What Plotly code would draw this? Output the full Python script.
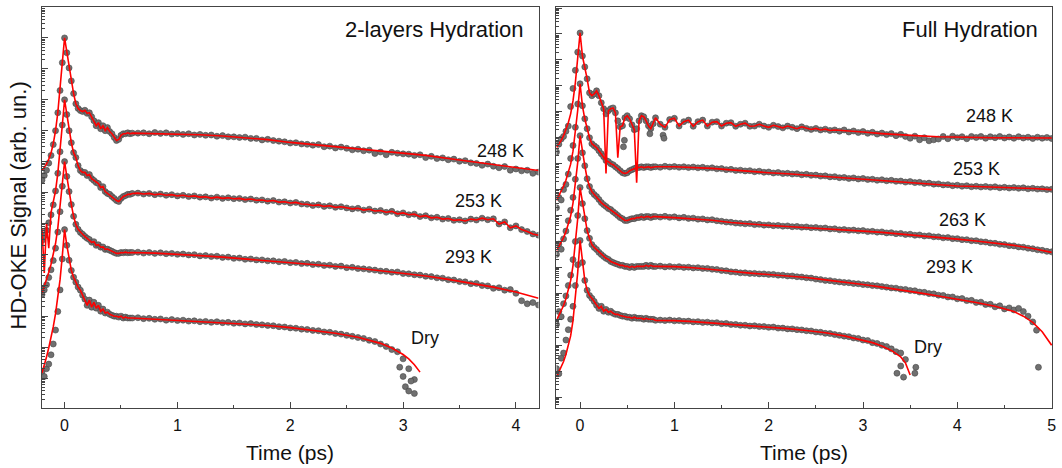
import plotly.graph_objects as go

# ---------------- time grids (ps) ----------------
tL_early = [-0.20,-0.18,-0.16,-0.14,-0.12,-0.10,-0.08,-0.06,-0.04,-0.02,0.00,
            0.02,0.04,0.06,0.08,0.10,0.12,0.14,0.16,0.18,0.20,0.22,0.24,0.26,0.28,0.30,
            0.32,0.34,0.36,0.38,0.40,0.42,0.44,0.46,0.48,0.50,0.52,0.54,0.56,0.58,0.60]
tL_tail = [0.65,0.70,0.75,0.80,0.85,0.90,0.95,1.00,1.05,1.10,1.15,1.20,1.25,1.30,1.35,1.40,
           1.45,1.50,1.55,1.60,1.65,1.70,1.75,1.80,1.85,1.90,1.95,2.00,2.05,2.10,2.15,2.20,
           2.25,2.30,2.35,2.40,2.45,2.50,2.55,2.60,2.65,2.70,2.75,2.80,2.85,2.90,2.95,3.00,
           3.05,3.10,3.15,3.20,3.25,3.30,3.35,3.40,3.45,3.50,3.55,3.60,3.65,3.70,3.75,3.80,
           3.85,3.90,3.95,4.00,4.05,4.10,4.15,4.20]
tfL = [0.6,0.8,1.0,1.2,1.4,1.6,1.8,2.0,2.2,2.4,2.6,2.8,3.0,3.2,3.4,3.6,3.8,4.0,4.2]
tfDryL = [0.6,0.8,1.0,1.2,1.4,1.6,1.8,2.0,2.2,2.4,2.6,2.8,2.9,3.0,3.05,3.1,3.15]

tR_early = [-0.250,-0.225,-0.200,-0.175,-0.150,-0.125,-0.100,-0.075,-0.050,-0.025,0.000,
            0.025,0.050,0.075,0.100,0.125,0.150,0.175,0.200,0.225,0.250,0.275,0.300,0.325,
            0.350,0.375,0.400,0.425,0.450,0.475,0.500,0.525,0.550,0.575,0.600,0.625,0.650,
            0.675,0.700,0.725,0.750,0.775,0.800]
tR_tail = [0.85,0.90,0.95,1.00,1.05,1.10,1.15,1.20,1.25,1.30,1.35,1.40,1.45,1.50,1.55,1.60,
           1.65,1.70,1.75,1.80,1.85,1.90,1.95,2.00,2.05,2.10,2.15,2.20,2.25,2.30,2.35,2.40,
           2.45,2.50,2.55,2.60,2.65,2.70,2.75,2.80,2.85,2.90,2.95,3.00,3.05,3.10,3.15,3.20,
           3.25,3.30,3.35,3.40,3.45,3.50,3.55,3.60,3.65,3.70,3.75,3.80,3.85,3.90,3.95,4.00,
           4.05,4.10,4.15,4.20,4.25,4.30,4.35,4.40,4.45,4.50,4.55,4.60,4.65,4.70,4.75,4.80,
           4.85,4.90,4.95,5.00]
tfR = [0.8,1.0,1.2,1.4,1.6,1.8,2.0,2.2,2.4,2.6,2.8,3.0,3.2,3.4,3.6,3.8,4.0,4.2,4.4,4.6,4.8,5.0]
tf248R = [2.8,3.0,3.2,3.4,3.6,3.8,4.0,4.2,4.4,4.6,4.8,5.0]
tf293R = [0.8,1.0,1.2,1.4,1.6,1.8,2.0,2.2,2.4,2.6,2.8,3.0,3.2,3.4,3.6,3.8,4.0,4.2,4.4,4.6,4.7,4.8,4.9,5.0]
tfDryR = [0.8,1.0,1.2,1.4,1.6,1.8,2.0,2.2,2.4,2.6,2.8,3.0,3.1,3.2,3.3,3.4,3.45,3.5]

# ---------------- log10 of HD-OKE signal, 2-layers hydration ----------------
d248L_early = [7.40,7.55,7.72,7.95,8.20,8.55,9.00,9.58,10.30,11.20,12.00,
               11.52,11.03,10.61,10.20,9.87,9.72,9.65,9.62,9.66,9.56,9.58,9.45,9.32,9.16,9.26,
               9.06,9.16,9.00,9.10,8.97,8.90,8.78,8.68,8.72,8.85,8.90,8.90,8.93,8.90,8.92]
d248L_tail = [8.92,8.93,8.90,8.94,8.91,8.93,8.89,8.91,8.88,8.90,8.86,8.88,8.85,8.86,8.82,8.84,
              8.80,8.80,8.78,8.79,8.75,8.75,8.70,8.72,8.68,8.66,8.64,8.60,8.61,8.57,8.56,8.53,
              8.55,8.48,8.50,8.44,8.47,8.43,8.38,8.40,8.35,8.37,8.26,8.31,8.22,8.30,8.27,8.25,
              8.24,8.20,8.22,8.13,8.17,8.10,8.12,8.06,8.08,8.01,8.03,7.96,7.94,7.88,7.92,7.85,
              7.80,7.84,7.72,7.76,7.70,7.72,7.62,7.66]
f248L_rise = [7.71,7.80,7.92,8.08,8.28,8.58,9.00,9.58,10.30,11.20]
f248L_tail = [8.90,8.91,8.90,8.87,8.83,8.78,8.71,8.62,8.55,8.48,8.41,8.34,8.28,8.20,8.10,8.00,7.90,7.80,7.71]

d253L_early = [5.45,5.60,5.78,6.02,6.28,6.60,7.05,7.62,8.32,9.18,10.00,
               9.52,9.00,8.61,8.29,8.13,7.87,7.71,7.65,7.65,7.55,7.58,7.45,7.39,7.32,7.29,
               7.16,7.19,7.03,6.97,6.94,6.87,6.81,6.74,6.71,6.81,6.87,6.90,6.94,6.94,6.97]
d253L_tail = [6.98,6.95,6.97,6.93,6.95,6.91,6.93,6.89,6.91,6.87,6.89,6.85,6.86,6.82,6.85,6.81,
              6.83,6.80,6.81,6.77,6.79,6.75,6.76,6.72,6.74,6.69,6.70,6.66,6.68,6.63,6.62,6.58,
              6.60,6.55,6.57,6.52,6.54,6.50,6.47,6.49,6.43,6.46,6.40,6.42,6.36,6.39,6.31,6.34,
              6.28,6.30,6.22,6.25,6.18,6.20,6.14,6.16,6.10,6.12,6.08,6.14,6.11,6.17,6.12,6.15,
              5.98,6.05,5.86,5.92,5.80,5.74,5.66,5.62]
f253L_rise = [5.85,4.40,6.00,5.20,6.35,6.65,7.05,7.62,8.32,9.18]

d293L_early = [3.70,3.85,4.02,4.25,4.50,4.80,5.20,5.72,6.38,7.20,8.00,
               7.52,7.03,6.61,6.23,5.97,5.81,5.71,5.65,5.58,5.52,5.48,5.39,5.41,5.29,5.31,
               5.23,5.24,5.16,5.17,5.13,5.10,5.06,5.03,5.03,5.06,5.05,5.07,5.05,5.06,5.06]
d293L_tail = [5.07,5.04,5.06,5.03,5.05,5.02,5.03,5.00,5.01,4.98,4.99,4.95,4.96,4.93,4.94,4.90,
              4.91,4.87,4.88,4.84,4.85,4.82,4.82,4.79,4.79,4.76,4.77,4.73,4.74,4.70,4.71,4.67,
              4.68,4.64,4.65,4.61,4.62,4.57,4.58,4.54,4.53,4.51,4.49,4.46,4.45,4.42,4.43,4.38,
              4.37,4.34,4.33,4.29,4.28,4.24,4.23,4.18,4.17,4.12,4.11,4.05,4.06,3.99,3.98,3.90,
              3.92,3.84,3.86,3.74,3.50,3.40,3.44,3.36]
f293L_rise = [3.74,3.95,4.18,4.42,4.68,4.98,5.35,5.85,6.50,7.25]
f293L_tail = [5.06,5.04,5.01,4.96,4.91,4.85,4.80,4.74,4.68,4.62,4.55,4.47,4.39,4.30,4.19,4.07,3.94,3.78,3.58]

dDryL_early = [1.20,1.05,1.30,1.45,1.75,2.10,2.55,3.15,3.85,4.85,5.80,
               5.29,4.81,4.48,4.26,4.10,3.94,3.84,3.68,3.55,3.35,3.52,3.29,3.45,3.26,3.35,
               3.16,3.23,3.10,3.13,3.06,3.03,3.00,3.00,2.97,3.00,2.94,2.97,2.94,2.94,2.94]
dDryL_tail = [2.95,2.92,2.93,2.90,2.91,2.87,2.89,2.86,2.87,2.84,2.85,2.82,2.83,2.80,2.82,2.79,
              2.80,2.77,2.78,2.75,2.76,2.73,2.72,2.70,2.69,2.66,2.65,2.62,2.61,2.58,2.57,2.54,
              2.53,2.49,2.48,2.44,2.42,2.38,2.35,2.31,2.28,2.22,2.18,2.10,2.02,1.92,1.85,1.62,
              1.30,0.95]
tDryL_extra = [2.97,3.00,3.02,3.05,3.07,3.10]
dDryL_extra = [1.35,1.05,0.72,0.58,0.90,0.50]
fDryL_rise = [1.16,1.40,1.68,1.98,2.30,2.66,3.08,3.58,4.18,4.95]
fDryL_tail = [2.94,2.90,2.86,2.82,2.79,2.75,2.70,2.63,2.55,2.45,2.32,2.12,1.97,1.76,1.62,1.43,1.19]

# ---------------- log10 of HD-OKE signal, full hydration ----------------
d248R_early = [9.45,9.75,9.95,10.05,10.25,10.45,11.20,11.90,12.60,13.30,14.04,
               13.15,12.73,12.27,11.73,11.62,11.69,11.81,11.62,11.35,11.12,10.92,11.04,11.12,
               11.15,10.96,10.65,10.42,10.46,10.77,10.85,10.73,10.50,10.31,10.35,10.65,10.85,
               10.81,10.65,10.46,10.35,10.54,10.77]
d248R_tail = [10.52,10.40,10.70,10.75,10.45,10.62,10.68,10.44,10.62,10.68,10.45,10.60,10.62,10.45,
              10.56,10.58,10.44,10.52,10.56,10.44,10.45,10.52,10.45,10.40,10.48,10.43,10.38,10.45,
              10.40,10.35,10.42,10.36,10.32,10.36,10.30,10.33,10.28,10.30,10.25,10.30,10.22,10.26,
              10.20,10.24,10.17,10.21,10.14,10.18,10.12,10.16,10.08,10.13,10.05,9.98,10.06,9.92,
              10.00,9.88,9.92,9.95,10.05,9.96,10.06,10.00,10.04,9.96,10.05,10.01,10.05,9.98,
              10.04,10.00,10.05,9.99,10.03,9.98,10.04,9.99,10.02,9.97,10.02,9.98,10.01,9.97]
t248R_extra = [0.46,0.47,0.74,0.88,0.89]
d248R_extra = [9.65,9.90,10.15,10.10,9.98]
f248R_rise = [9.62,9.75,9.90,10.08,10.30,10.58,10.92,11.42,12.12,13.00]
f248R_body = [14.04,13.15,12.73,12.27,11.73,11.62,11.69,11.81,11.62,11.35,11.12,8.62,11.04,11.12,
              11.15,10.96,9.23,10.42,10.46,10.77,10.85,10.73,10.50,10.31,8.27,10.65,10.85,
              10.81,10.65,10.46,10.35,10.54,10.77]
f248R_tail = [10.28,10.22,10.16,10.11,10.07,10.04,10.02,10.01,10.00,10.00,9.99,9.99]

d253R_early = [7.30,7.70,7.60,8.00,8.20,8.60,9.20,9.70,10.40,11.30,12.08,
               11.23,10.73,10.35,10.00,9.77,9.69,9.62,9.50,9.38,9.27,9.12,9.08,9.00,8.96,8.88,
               8.81,8.73,8.65,8.62,8.65,8.73,8.77,8.81,8.85,8.85,8.88,8.85,8.88,8.88,8.85,8.88,8.88]
d253R_tail = [8.86,8.90,8.87,8.89,8.86,8.88,8.85,8.87,8.84,8.86,8.82,8.84,8.80,8.81,8.77,8.78,
              8.74,8.75,8.72,8.73,8.69,8.71,8.67,8.68,8.64,8.66,8.62,8.63,8.60,8.61,8.57,8.59,
              8.55,8.56,8.52,8.53,8.49,8.50,8.46,8.47,8.43,8.45,8.41,8.43,8.39,8.40,8.36,8.38,
              8.34,8.36,8.32,8.33,8.29,8.31,8.27,8.28,8.24,8.25,8.21,8.22,8.18,8.19,8.15,8.17,
              8.13,8.15,8.11,8.13,8.10,8.12,8.09,8.11,8.07,8.09,8.06,8.08,8.05,8.07,8.03,8.05,
              8.02,8.03,8.00,8.01]
f253R_rise = [7.58,7.75,7.93,8.13,8.36,8.63,8.98,9.48,10.18,11.06]
f253R_tail = [8.88,8.88,8.86,8.82,8.76,8.70,8.65,8.61,8.56,8.49,8.44,8.40,8.35,8.30,8.24,8.18,
              8.14,8.12,8.10,8.08,8.04,8.00]

d263R_early = [5.50,5.90,5.70,6.10,6.40,6.80,7.20,7.70,8.40,9.20,10.08,
               9.42,8.92,8.42,8.12,7.92,7.81,7.73,7.62,7.50,7.42,7.35,7.27,7.23,7.15,7.08,
               7.00,6.92,6.88,6.81,6.81,6.85,6.88,6.88,6.92,6.92,6.96,6.92,6.96,6.96,6.92,6.96,6.96]
d263R_tail = [6.94,6.97,6.93,6.95,6.91,6.93,6.89,6.90,6.86,6.87,6.83,6.84,6.80,6.78,6.75,6.74,
              6.71,6.70,6.68,6.69,6.65,6.66,6.63,6.64,6.61,6.62,6.59,6.60,6.57,6.58,6.55,6.56,
              6.53,6.54,6.51,6.52,6.48,6.49,6.45,6.46,6.43,6.44,6.41,6.42,6.38,6.39,6.36,6.37,
              6.33,6.34,6.30,6.31,6.27,6.28,6.24,6.25,6.21,6.22,6.18,6.18,6.14,6.15,6.11,6.11,
              6.07,6.07,6.03,6.03,5.99,5.98,5.94,5.93,5.89,5.88,5.84,5.83,5.79,5.78,5.74,5.72,
              5.68,5.66,5.62,5.60]
f263R_rise = [5.65,5.80,5.95,6.15,6.38,6.65,6.98,7.48,8.18,9.05]
f263R_tail = [6.96,6.92,6.88,6.82,6.73,6.67,6.62,6.58,6.54,6.50,6.45,6.40,6.35,6.29,6.23,6.16,
              6.09,6.02,5.94,5.85,5.73,5.58]

d293R_early = [2.80,3.30,3.10,3.60,3.90,4.30,4.70,5.30,6.00,7.00,8.08,
               7.46,6.88,6.42,6.12,5.88,5.77,5.69,5.58,5.50,5.42,5.35,5.31,5.23,5.19,5.15,
               5.12,5.08,5.08,5.04,5.04,5.00,5.04,5.00,5.04,5.04,5.04,5.04,5.08,5.04,5.08,5.04,5.04]
d293R_tail = [5.05,5.02,5.04,5.01,5.03,5.00,5.01,4.98,4.99,4.96,4.96,4.93,4.92,4.88,4.87,4.83,
              4.82,4.79,4.79,4.77,4.77,4.75,4.75,4.73,4.73,4.70,4.70,4.67,4.67,4.64,4.63,4.60,
              4.59,4.55,4.53,4.50,4.49,4.46,4.44,4.42,4.41,4.38,4.37,4.34,4.33,4.30,4.29,4.26,
              4.24,4.21,4.20,4.16,4.15,4.11,4.10,4.05,4.04,3.99,3.98,3.93,3.92,3.86,3.86,3.79,
              3.80,3.72,3.73,3.65,3.66,3.57,3.58,3.48,3.52,3.40,3.44,3.36,3.42,3.30,3.12,2.90]
t293R_extra = [4.84,4.86]
d293R_extra = [2.58,1.15]
f293R_rise = [2.96,3.13,3.31,3.53,3.79,4.10,4.49,5.07,5.87,6.88]
f293R_tail = [5.04,5.03,4.99,4.93,4.85,4.78,4.73,4.68,4.61,4.52,4.44,4.34,4.24,4.14,4.02,3.90,
              3.78,3.65,3.50,3.30,3.12,2.88,2.52,2.00]

dDryR_early = [1.10,0.90,1.50,1.70,2.20,2.60,3.00,3.50,4.30,5.10,6.04,
               5.19,4.50,4.12,3.92,3.81,3.69,3.54,3.42,3.50,3.31,3.38,3.27,3.31,3.23,3.19,
               3.19,3.15,3.12,3.12,3.08,3.08,3.04,3.08,3.04,3.04,3.04,3.00,3.04,3.00,3.00,3.00,2.96]
dDryR_tail = [2.97,2.95,2.97,2.94,2.95,2.92,2.93,2.90,2.91,2.88,2.89,2.86,2.87,2.83,2.84,2.80,
              2.80,2.77,2.77,2.74,2.75,2.72,2.72,2.69,2.70,2.66,2.66,2.63,2.63,2.60,2.59,2.56,
              2.55,2.51,2.50,2.46,2.45,2.41,2.38,2.35,2.33,2.28,2.26,2.20,2.18,2.10,2.07,2.00,
              1.95,1.86,1.75,1.70,1.45]
tDryR_extra = [3.36,3.40,3.43,3.55,3.56]
dDryR_extra = [0.92,1.20,0.77,0.92,1.15]
fDryR_rise = [0.77,0.95,1.14,1.37,1.64,1.96,2.36,2.95,3.77,4.81]
fDryR_tail = [2.97,2.95,2.91,2.86,2.80,2.75,2.70,2.64,2.57,2.48,2.36,2.20,2.10,1.97,1.80,1.55,1.32,0.85]

labels_left = ["248 K", "253 K", "293 K", "Dry"]
labels_right = ["248 K", "253 K", "263 K", "293 K", "Dry"]
panel_titles = ["2-layers Hydration", "Full Hydration"]

# ---------------------------------------------------------------
def sig(vals):
    return [10 ** v for v in vals]

GRAY = "rgb(112,112,112)"
EDGE = "rgb(70,70,70)"
RED = "#ff0000"
FONT = "Liberation Sans, Arial, sans-serif"

fig = go.Figure()

def add_data(t, v, xa, ya):
    fig.add_trace(go.Scatter(x=t, y=sig(v), mode="markers", xaxis=xa, yaxis=ya,
                             marker=dict(size=6, color=GRAY, line=dict(width=0.6, color=EDGE)),
                             hoverinfo="skip"))

def add_fit(t, v, xa, ya):
    fig.add_trace(go.Scatter(x=t, y=sig(v), mode="lines", xaxis=xa, yaxis=ya,
                             line=dict(color=RED, width=1.6), hoverinfo="skip"))

# ---- left panel data ----
add_data(tL_early + tL_tail, d248L_early + d248L_tail, "x", "y")
add_data(tL_early + tL_tail, d253L_early + d253L_tail, "x", "y")
add_data(tL_early + tL_tail, d293L_early + d293L_tail, "x", "y")
add_data(tL_early + tL_tail[:len(dDryL_tail)] + tDryL_extra,
         dDryL_early + dDryL_tail + dDryL_extra, "x", "y")
# ---- right panel data ----
add_data(tR_early + tR_tail + t248R_extra, d248R_early + d248R_tail + d248R_extra, "x2", "y2")
add_data(tR_early + tR_tail, d253R_early + d253R_tail, "x2", "y2")
add_data(tR_early + tR_tail, d263R_early + d263R_tail, "x2", "y2")
add_data(tR_early + tR_tail[:len(d293R_tail)] + t293R_extra,
         d293R_early + d293R_tail + d293R_extra, "x2", "y2")
add_data(tR_early + tR_tail[:len(dDryR_tail)] + tDryR_extra,
         dDryR_early + dDryR_tail + dDryR_extra, "x2", "y2")

# ---- left panel fits ----
nL = 10  # index of t = 0 on early grid
add_fit(tL_early[:nL] + tL_early[nL:] + tfL[1:], f248L_rise + d248L_early[nL:] + f248L_tail[1:], "x", "y")
add_fit(tL_early[:nL] + tL_early[nL:] + tL_tail, f253L_rise + d253L_early[nL:] + d253L_tail, "x", "y")
add_fit(tL_early[:nL] + tL_early[nL:] + tfL[1:], f293L_rise + d293L_early[nL:] + f293L_tail[1:], "x", "y")
add_fit(tL_early[:nL] + tL_early[nL:] + tfDryL[1:], fDryL_rise + dDryL_early[nL:] + fDryL_tail[1:], "x", "y")

# ---- right panel fits ----
nR = 10
n248osc = 38  # oscillatory part of the fit follows the data up to 2.70 ps
add_fit(tR_early + tR_tail[:n248osc] + tf248R,
        f248R_rise + f248R_body + d248R_tail[:n248osc] + f248R_tail, "x2", "y2")
add_fit(tR_early + tfR[1:], f253R_rise + d253R_early[nR:] + f253R_tail[1:], "x2", "y2")
add_fit(tR_early + tfR[1:], f263R_rise + d263R_early[nR:] + f263R_tail[1:], "x2", "y2")
add_fit(tR_early + tf293R[1:], f293R_rise + d293R_early[nR:] + f293R_tail[1:], "x2", "y2")
add_fit(tR_early + tfDryR[1:], fDryR_rise + dDryR_early[nR:] + fDryR_tail[1:], "x2", "y2")

# ---- axes ----
def log_ticks(lo, hi):
    major = [10.0 ** k for k in range(lo, hi + 1)]
    minor = [m * 10.0 ** k for k in range(lo - 1, hi + 1) for m in range(2, 10)]
    return major, minor

axis_line = dict(showline=True, linecolor="#444", linewidth=1, mirror=True,
                 showgrid=False, zeroline=False)

majL, minL = log_ticks(0, 13)
majR, minR = log_ticks(-1, 15)

fig.update_layout(
    width=1062, height=468,
    margin=dict(l=42, r=7, t=6, b=60),
    paper_bgcolor="white", plot_bgcolor="white",
    showlegend=False,
    font=dict(family=FONT, color="#111"),
    xaxis=dict(domain=[0, 0.4916], range=[-0.2, 4.2], tickmode="array",
               tickvals=[0, 1, 2, 3, 4], ticks="inside", ticklen=6, tickcolor="#444",
               tickfont=dict(size=16, family=FONT), ticklabelstandoff=3,
               minor=dict(tickmode="array", tickvals=[0.5, 1.5, 2.5, 3.5],
                          ticks="inside", ticklen=3, tickcolor="#444"),
               **axis_line),
    xaxis2=dict(domain=[0.5094, 1.0], range=[-0.25, 5.004], anchor="y2", tickmode="array",
                tickvals=[0, 1, 2, 3, 4, 5], ticks="inside", ticklen=6, tickcolor="#444",
                tickfont=dict(size=16, family=FONT), ticklabelstandoff=3,
                minor=dict(tickmode="array", tickvals=[0.5, 1.5, 2.5, 3.5, 4.5],
                           ticks="inside", ticklen=3, tickcolor="#444"),
                **axis_line),
    yaxis=dict(type="log", range=[0.03, 13.0], anchor="x", tickmode="array",
               tickvals=majL, ticks="inside", ticklen=6, tickcolor="#444",
               showticklabels=False,
               minor=dict(tickmode="array", tickvals=minL, ticks="inside",
                          ticklen=3, tickcolor="#444"),
               **axis_line),
    yaxis2=dict(type="log", range=[-0.42, 15.04], anchor="x2", tickmode="array",
                tickvals=majR, ticks="inside", ticklen=6, tickcolor="#444",
                showticklabels=False,
                minor=dict(tickmode="array", tickvals=minR, ticks="inside",
                           ticklen=3, tickcolor="#444"),
                **axis_line),
)

ann = []
# axis titles
for xr in ["x domain", "x2 domain"]:
    ann.append(dict(text="Time (ps)", xref=xr, x=0.5, yref="paper", y=0, yshift=-44,
                    xanchor="center", yanchor="middle", showarrow=False,
                    font=dict(size=21, family=FONT)))
ann.append(dict(text="HD-OKE Signal (arb. un.)", xref="paper", x=0, xshift=-24,
                yref="paper", y=0.505, textangle=-90, xanchor="center", yanchor="middle",
                showarrow=False, font=dict(size=22, family=FONT)))
# panel titles
ann.append(dict(text=panel_titles[0], xref="x domain", x=0.974, yref="paper", y=1, yshift=-22,
                xanchor="right", yanchor="middle", showarrow=False, font=dict(size=22, family=FONT)))
ann.append(dict(text=panel_titles[1], xref="x2 domain", x=0.976, yref="paper", y=1, yshift=-22,
                xanchor="right", yanchor="middle", showarrow=False, font=dict(size=22, family=FONT)))
# curve labels (x in ps, y in log10 units)
posL = [(3.86, 8.35), (3.67, 6.74), (3.58, 4.90), (3.19, 2.29)]
for lab, (xx, yy) in zip(labels_left, posL):
    ann.append(dict(text=lab, xref="x", yref="y", x=xx, y=yy, showarrow=False,
                    xanchor="center", yanchor="middle", font=dict(size=18, family=FONT)))
posR = [(4.34, 10.85), (4.20, 8.81), (4.06, 6.81), (3.92, 5.00), (3.69, 1.92)]
for lab, (xx, yy) in zip(labels_right, posR):
    ann.append(dict(text=lab, xref="x2", yref="y2", x=xx, y=yy, showarrow=False,
                    xanchor="center", yanchor="middle", font=dict(size=18, family=FONT)))
fig.update_layout(annotations=ann)

fig.write_html("out.html", config={"displayModeBar": False},
               post_script="document.body.style.margin='0px';document.body.style.padding='0px';")
